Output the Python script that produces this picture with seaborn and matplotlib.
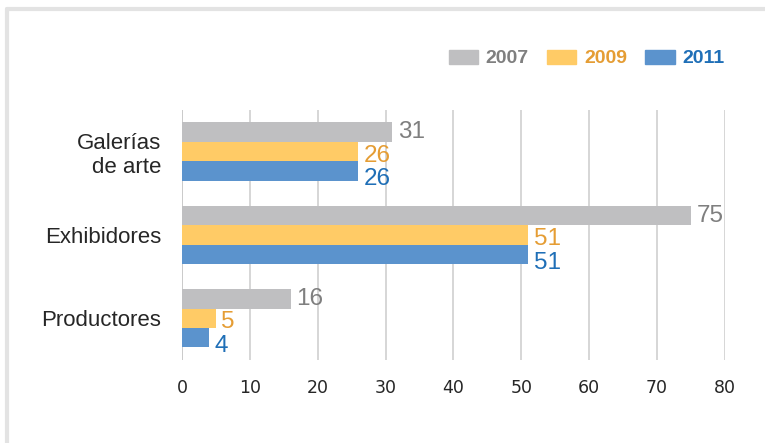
import matplotlib

matplotlib.use("Agg")
import matplotlib.pyplot as plt
from matplotlib.lines import Line2D
import pandas as pd
import seaborn as sns

categories = ["Galerías\nde arte", "Exhibidores", "Productores"]
years = ["2007", "2009", "2011"]
values_2007 = [31, 75, 16]
values_2009 = [26, 51, 5]
values_2011 = [26, 51, 4]
x_ticks = [0, 10, 20, 30, 40, 50, 60, 70, 80]

bar_colors = ["#BFBFC1", "#FFCB66", "#5B93CD"]
text_colors = ["#7F7F7F", "#E59D34", "#1F6FB7"]
# labels of the lower series sit a little below their bar, as in the original
label_drop = [0, 3, 6]

df = pd.DataFrame({
    "categoria": categories * 3,
    "anio": [y for y in years for _ in categories],
    "valor": values_2007 + values_2009 + values_2011,
})

sns.set_style("white")
plt.rcParams["font.family"] = ["Liberation Sans", "DejaVu Sans"]

fig = plt.figure(figsize=(7.65, 4.43), dpi=100)
ax = fig.add_axes([0.2379, 0.1874, 0.7098, 0.5643])

sns.barplot(data=df, y="categoria", x="valor", hue="anio", orient="h",
            palette=bar_colors, width=0.7, saturation=1, ax=ax,
            legend=False, errorbar=None, linewidth=0, edgecolor="none")

for cont, col, drop in zip(ax.containers, text_colors, label_drop):
    for ann in ax.bar_label(cont, padding=4, color=col, fontsize=17.5):
        ann.xyann = (4, -drop)

ax.set_xlim(0, 80)
ax.set_ylim(2.5, -0.5)
ax.set_xticks(x_ticks)
ax.set_xticklabels([str(t) for t in x_ticks],
                   family=["Liberation Sans Narrow", "DejaVu Sans Condensed", "DejaVu Sans"],
                   fontsize=12.5)
ax.tick_params(axis="x", length=0, pad=14)
ax.tick_params(axis="y", length=0, pad=15, labelsize=16)
for lab in ax.get_yticklabels():
    lab.set_multialignment("right")
ax.set_xlabel("")
ax.set_ylabel("")
for s in ax.spines.values():
    s.set_visible(False)
ax.set_axisbelow(True)
ax.xaxis.grid(True, color="#D0D0D0", linewidth=1.2)
ax.axvline(0, color="#A6A6A6", linewidth=1.2, zorder=0.5)

handles = [plt.Rectangle((0, 0), 1, 1, color=c) for c in bar_colors]
leg = fig.legend(handles, years, loc="center right", bbox_to_anchor=(0.970, 0.868),
                 ncol=3, frameon=False, handlelength=1.5, handleheight=0.75,
                 columnspacing=0.95, handletextpad=0.4,
                 prop={"size": 14, "weight": "bold"})
for txt, col in zip(leg.get_texts(), text_colors):
    txt.set_color(col)

# light frame at the top and left of the panel
fig.add_artist(Line2D([0.009, 1.0], [0.979, 0.979], color="#E3E3E3",
                      linewidth=3, transform=fig.transFigure))
fig.add_artist(Line2D([0.009, 0.009], [0.0, 0.979], color="#E3E3E3",
                      linewidth=3, transform=fig.transFigure))

fig.savefig("out.png", dpi=100)
